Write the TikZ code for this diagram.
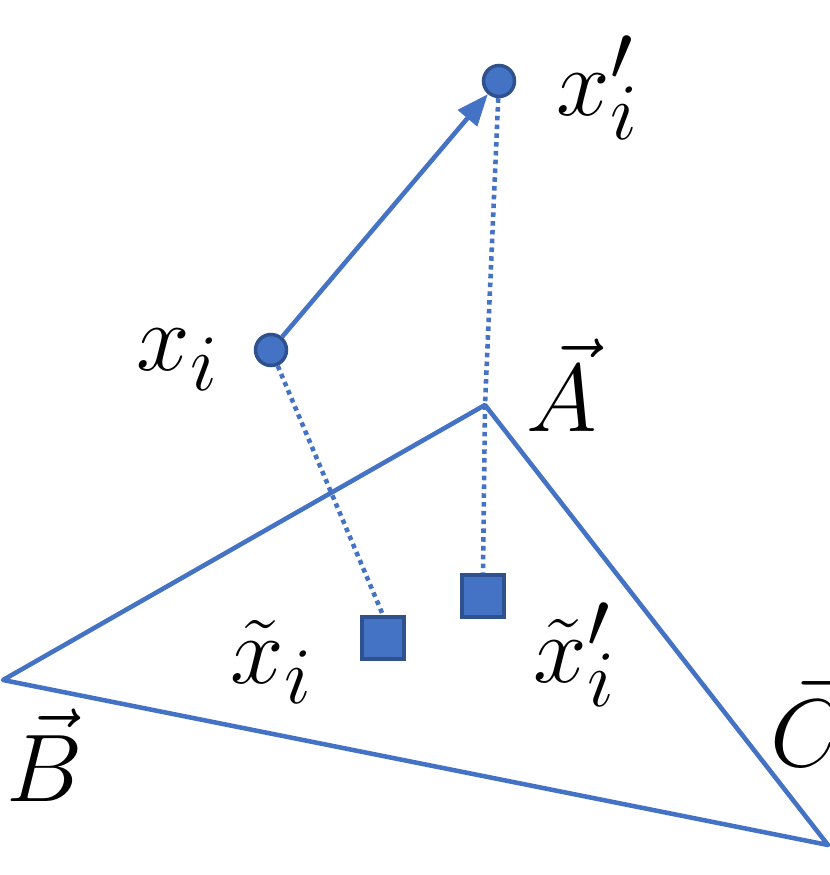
\documentclass[tikz,border=0pt]{standalone}
\usetikzlibrary{arrows.meta}
\definecolor{bl}{HTML}{4472C4}
\definecolor{dbl}{HTML}{2F528F}
\begin{document}
\begin{tikzpicture}[x=0.02cm,y=-0.02cm,
  ln/.style={draw=bl,line width=2.6pt},
  dot/.style={bl,line width=2.6pt,dash pattern=on 2.6pt off 2.4pt},
  pt/.style={circle,fill=bl,draw=dbl,line width=2pt,minimum size=0.62cm,inner sep=0pt},
  sq/.style={rectangle,fill=bl,draw=dbl,line width=2pt,minimum size=0.84cm,inner sep=0pt},
  lb/.style={inner sep=0pt,font=\Huge,scale=2.2,transform shape}]
\useasboundingbox (0,0) rectangle (830,875);
\coordinate (A) at (485,405);
\coordinate (B) at (3,680);
\coordinate (C) at (828,845);
\draw[ln,line join=round] (A) -- (B) -- (C) -- cycle;
\node[pt] (xi) at (271,350) {};
\node[pt] (xp) at (499,81) {};
\node[sq] (s1) at (383,638) {};
\node[sq] (s2) at (483,596) {};
\draw[dot] (xi) -- (s1.north);
\draw[dot] (xp) -- (A) -- (s2.north);
\draw[ln,-{Triangle[length=18pt,width=14pt]}] (xi) -- (xp);
\node[lb] (lxi) at (178,360) {$x_i$};
\node[lb] (lxp) at (598,88) {$x_i'$};
\node[lb] (lA) at (562,385) {$\vec{A}$};
\node[lb] (lB) at (45,755) {$\vec{B}$};
\node[lb] (lC) at (808,720) {$\vec{C}$};
\node[lb] (lt1) at (272,662) {$\tilde{x}_i$};
\node[lb] (lt2) at (575,655) {$\tilde{x}_i'$};
\end{tikzpicture}
\end{document}
